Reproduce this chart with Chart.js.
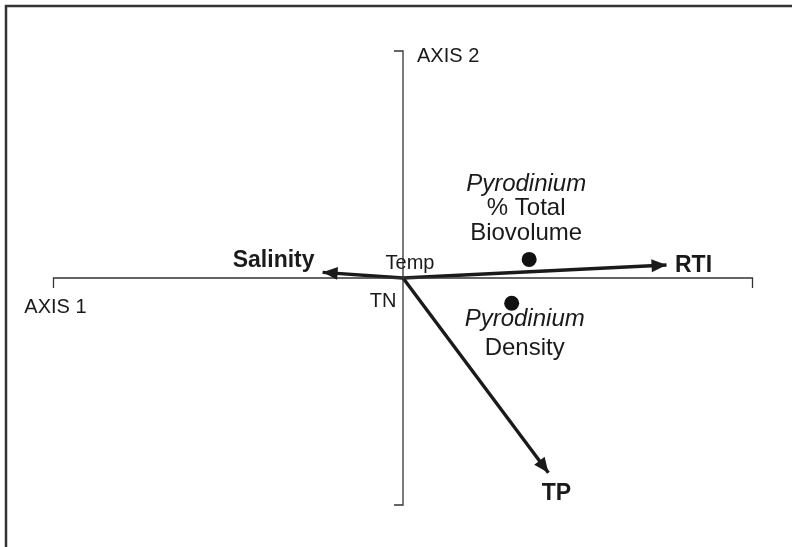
<!DOCTYPE html>
<html>
<head>
<meta charset="utf-8">
<script src="https://cdn.jsdelivr.net/npm/chart.js@4.4.1/dist/chart.umd.min.js"></script>
<style>
  html, body { margin: 0; padding: 0; background: #fff; }
  #wrap { width: 792px; height: 547px; }
</style>
</head>
<body>
<div id="wrap"><canvas id="biplot" width="792" height="547"></canvas></div>
<script>
// environmental variables (vectors from the origin)
const variables = ['Salinity', 'RTI', 'TP', 'Temp', 'TN'];
const varAxis1 = [-0.230, 0.754, 0.416, 0, 0];
const varAxis2 = [0.025, 0.057, -0.858, 0, 0];

// response points
const responses = [['Pyrodinium', '% Total', 'Biovolume'], ['Pyrodinium', 'Density']];
const respAxis1 = [0.361, 0.311];
const respAxis2 = [0.082, -0.111];

const axisTitles = ['AXIS 1', 'AXIS 2'];
const axisLimit = 1;

const FONT = "'Liberation Sans', Arial, Helvetica, sans-serif";
const INK = '#1a1a1a';

// label placement, pixels from the anchor
const varLabelStyle = {
  Salinity: { dx: -49, dy: -5, bold: true, size: 23 },
  RTI: { dx: 27, dy: 7, bold: true, size: 23 },
  TP: { dx: 8, dy: 27, bold: true, size: 23 },
  Temp: { dx: 7, dy: -9, bold: false, size: 20 },
  TN: { dx: -20, dy: 29, bold: false, size: 20 }
};
const respLabelStyle = [
  { dx: -3, dy: [-68, -44, -19] },
  { dx: 13, dy: [23, 52] }
];

const tickX = 9 / 349.5;
const tickY = 10 / 227;

const datasets = [];
datasets.push({
  data: [{x: -axisLimit, y: -tickY}, {x: -axisLimit, y: 0}, {x: axisLimit, y: 0}, {x: axisLimit, y: -tickY}],
  showLine: true, borderColor: '#333', borderWidth: 1.3, pointRadius: 0, tension: 0
});
datasets.push({
  data: [{x: -tickX, y: axisLimit}, {x: 0, y: axisLimit}, {x: 0, y: -axisLimit}, {x: -tickX, y: -axisLimit}],
  showLine: true, borderColor: '#333', borderWidth: 1.3, pointRadius: 0, tension: 0
});
variables.forEach(function (name, i) {
  datasets.push({
    label: name,
    isVector: true,
    data: [{x: 0, y: 0}, {x: varAxis1[i], y: varAxis2[i]}],
    showLine: true, borderColor: INK, borderWidth: 3.4, pointRadius: 0, tension: 0
  });
});
datasets.push({
  isResponse: true,
  data: respAxis1.map(function (v, i) { return {x: v, y: respAxis2[i]}; }),
  showLine: false, pointRadius: 7.5, pointBackgroundColor: '#111', pointBorderWidth: 0
});

const decor = {
  id: 'decor',
  beforeDraw(chart) {
    const c = chart.ctx;
    c.save();
    c.fillStyle = '#fff';
    c.fillRect(0, 0, chart.width, chart.height);
    c.strokeStyle = '#333';
    c.lineWidth = 2.5;
    c.strokeRect(6, 6, chart.width + 20, chart.height + 20);
    c.restore();
  },
  afterDatasetsDraw(chart) {
    const c = chart.ctx;
    const sx = chart.scales.x, sy = chart.scales.y;
    c.save();
    // arrow heads
    chart.data.datasets.forEach(function (ds, di) {
      if (!ds.isVector) return;
      const pts = chart.getDatasetMeta(di).data;
      const a = pts[0], b = pts[1];
      const len = Math.hypot(b.x - a.x, b.y - a.y);
      if (len < 1) return;
      const ang = Math.atan2(b.y - a.y, b.x - a.x);
      c.save();
      c.translate(b.x, b.y);
      c.rotate(ang);
      c.fillStyle = INK;
      c.beginPath();
      c.moveTo(0, 0);
      c.lineTo(-15, -6.5);
      c.lineTo(-15, 6.5);
      c.closePath();
      c.fill();
      c.restore();
    });

    c.fillStyle = INK;
    c.textAlign = 'center';
    c.textBaseline = 'alphabetic';
    // variable labels
    variables.forEach(function (name, i) {
      const st = varLabelStyle[name];
      const px = sx.getPixelForValue(varAxis1[i]);
      const py = sy.getPixelForValue(varAxis2[i]);
      c.font = (st.bold ? 'bold ' : '') + st.size + 'px ' + FONT;
      c.fillText(name, px + st.dx, py + st.dy);
    });
    // response labels
    responses.forEach(function (lines, i) {
      const st = respLabelStyle[i];
      const px = sx.getPixelForValue(respAxis1[i]);
      const py = sy.getPixelForValue(respAxis2[i]);
      lines.forEach(function (txt, k) {
        c.font = (k === 0 ? 'italic ' : '') + '24px ' + FONT;
        c.fillText(txt, px + st.dx, py + st.dy[k]);
      });
    });
    // axis titles
    c.font = '20px ' + FONT;
    c.fillText(axisTitles[0], sx.getPixelForValue(-axisLimit) + 2, sy.getPixelForValue(0) + 35);
    c.textAlign = 'left';
    c.fillText(axisTitles[1], sx.getPixelForValue(0) + 14, sy.getPixelForValue(axisLimit) + 11);
    c.restore();
  }
};

new Chart(document.getElementById('biplot'), {
  type: 'scatter',
  data: { datasets: datasets },
  options: {
    responsive: false,
    animation: false,
    devicePixelRatio: 1,
    layout: { padding: 0, autoPadding: false },
    clip: false,
    plugins: {
      legend: { display: false },
      tooltip: { enabled: false }
    },
    scales: {
      x: { type: 'linear', display: false, min: -403 / 349.5, max: 389 / 349.5 },
      y: { type: 'linear', display: false, min: -269 / 227, max: 278 / 227 }
    }
  },
  plugins: [decor]
});
</script>
</body>
</html>
